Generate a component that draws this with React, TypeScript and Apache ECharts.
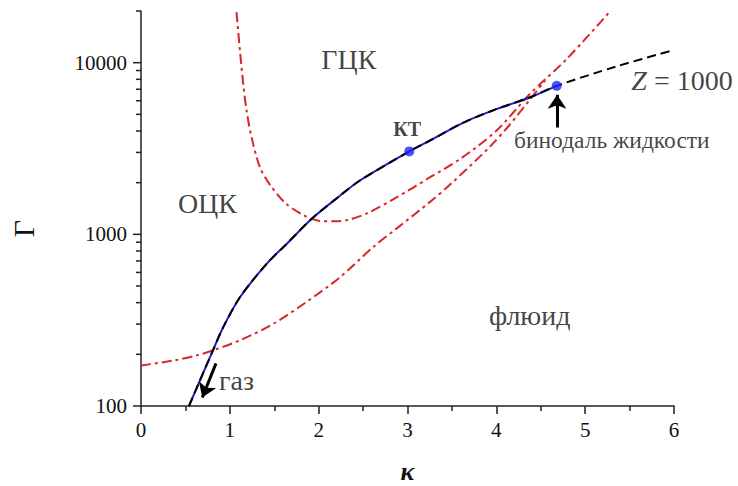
import React, { useEffect, useRef } from 'react';
import * as echarts from 'echarts';

const FONT = "'Liberation Serif', 'Times New Roman', serif";

// Liquid binodal (blue) = Z = 1000 line (black dashed) below the end point
const binodalKappa = [0.54, 0.81, 0.926, 1.114, 1.414, 1.639, 1.92, 2.24, 2.46, 3.02, 3.25, 3.63, 4.0, 4.375, 4.68];
const binodalGamma = [100, 211, 288, 430, 673, 879, 1230, 1679, 2052, 3040, 3510, 4480, 5360, 6270, 7330];
// Z = 1000 continuation beyond the binodal end
const zExtKappa = [5.35, 6.0];
const zExtGamma = [9500, 11860];

// Red dash-dot: U-shaped curve (ОЦК / ГЦК boundary and continuation)
const uKappa = [1.075, 1.114, 1.151, 1.189, 1.245, 1.339, 1.45, 1.62, 1.82, 2.0, 2.17, 2.35, 2.55, 2.876, 3.25, 3.59, 4.0, 4.375, 4.79, 5.28];
const uGamma = [19700, 11700, 7480, 5240, 3665, 2455, 1950, 1530, 1300, 1200, 1190, 1220, 1330, 1641, 2144, 2742, 4010, 6550, 10470, 19900];

// Red dash-dot: lower melting curve (merges with the upper one near κ ≈ 4.5)
const lowKappa = [0, 0.365, 0.626, 0.81, 1.11, 1.49, 1.86, 2.24, 2.61, 2.876, 3.25, 3.48, 3.93, 4.15, 4.4, 4.55];
const lowGamma = [172, 184, 197, 211, 241, 301, 403, 562, 840, 1080, 1540, 1950, 3250, 4350, 6300, 7900];

// Blue points: critical point (КТ) and binodal end
const pointKappa = [3.02, 4.68];
const pointGamma = [3040, 7330];

// Y ticks (log axis)
const yMajorTicks = [100, 1000, 10000];
const yMinorTicks = [200, 300, 400, 500, 600, 700, 800, 900, 2000, 3000, 4000, 5000, 6000, 7000, 8000, 9000, 20000];

// Region labels
const regionNames = ['ГЦК', 'ОЦК', 'флюид', 'газ'];
const regionKappa = [2.34, 0.748, 4.376, 1.075];
const regionGamma = [10470, 1514, 338, 140];

// Arrows: [kappa from, gamma from, kappa to, gamma to]
const gasArrow = [0.844, 177, 0.69, 112];
const binodalArrow = [4.684, 4190, 4.684, 6500];

const RED = '#d8262a';
const BLUE = '#1c1ccc';
const INK = '#111';

function pairs(xs: number[], ys: number[]) {
  return xs.map((x, i) => [x, ys[i]]);
}

export default function App() {
  const ref = useRef<HTMLDivElement>(null);
  useEffect(() => {
    document.body.style.margin = '0';
    if (!ref.current) return;
    const chart = echarts.init(ref.current, undefined, { renderer: 'svg' });

    const tickSeries = (values: number[], len: number) => ({
      type: 'custom',
      silent: true,
      clip: false,
      z: 5,
      data: values.map((v) => [0, v]),
      renderItem: (_p: any, api: any) => {
        const pt = api.coord([api.value(0), api.value(1)]);
        return {
          type: 'line',
          shape: { x1: pt[0] - len, y1: pt[1], x2: pt[0], y2: pt[1] },
          style: { stroke: '#222', lineWidth: 1.5 },
        };
      },
    });

    const zLine = pairs(binodalKappa, binodalGamma).concat(pairs(zExtKappa, zExtGamma));

    const option: any = {
      animation: false,
      backgroundColor: '#fff',
      textStyle: { fontFamily: FONT },
      grid: { left: 141, right: 64, top: 11, bottom: 80, containLabel: false, outerBoundsMode: 'none' },
      xAxis: {
        type: 'value',
        min: 0,
        max: 6,
        interval: 1,
        name: 'κ',
        nameLocation: 'middle',
        nameGap: 52,
        nameTextStyle: { fontSize: 26, lineHeight: 26, fontWeight: 'bold', fontStyle: 'italic', color: INK, fontFamily: FONT },
        axisLine: { lineStyle: { color: '#222', width: 1.5 } },
        axisTick: { show: true, length: 8, lineStyle: { color: '#222', width: 1.5 } },
        minorTick: { show: true, splitNumber: 2, length: 5, lineStyle: { color: '#222', width: 1.5 } },
        splitLine: { show: false },
        axisLabel: { fontSize: 21, color: INK, margin: 13, fontFamily: FONT },
      },
      yAxis: {
        type: 'log',
        logBase: 10,
        min: 100,
        max: 20000,
        name: 'Γ',
        nameLocation: 'middle',
        nameGap: 103,
        nameRotate: 90,
        nameTextStyle: { fontSize: 30, color: INK, fontFamily: FONT, padding: [0, 40, 0, 0] },
        axisLine: { show: true, lineStyle: { color: '#222', width: 1.5 } },
        axisTick: { show: false },
        splitLine: { show: false },
        axisLabel: {
          fontSize: 21,
          color: INK,
          margin: 14,
          fontFamily: FONT,
          formatter: (v: number) =>
            yMajorTicks.some((t) => Math.abs(t - v) / t < 1e-6) ? String(Math.round(v)) : '',
        },
      },
      series: [
        {
          type: 'line',
          data: pairs(lowKappa, lowGamma),
          smooth: 0.3,
          showSymbol: false,
          clip: true,
          lineStyle: { color: RED, width: 2, type: [10, 4, 3, 4] },
          z: 2,
        },
        {
          type: 'line',
          data: pairs(uKappa, uGamma),
          smooth: 0.3,
          showSymbol: false,
          clip: true,
          lineStyle: { color: RED, width: 2, type: [10, 4, 3, 4] },
          z: 2,
        },
        {
          type: 'line',
          data: pairs(binodalKappa, binodalGamma),
          smooth: 0.3,
          showSymbol: false,
          lineStyle: { color: BLUE, width: 2 },
          z: 3,
        },
        {
          type: 'line',
          data: zLine,
          smooth: 0.3,
          showSymbol: false,
          lineStyle: { color: '#000', width: 2, type: [9, 5] },
          z: 4,
        },
        {
          type: 'scatter',
          data: pairs(pointKappa, pointGamma),
          symbolSize: 10,
          itemStyle: { color: '#1a2af0' },
          z: 6,
        },
        {
          type: 'lines',
          coordinateSystem: 'cartesian2d',
          symbol: ['none', 'arrow'],
          symbolSize: [11, 14],
          silent: true,
          z: 6,
          lineStyle: { color: '#000', width: 3, opacity: 1 },
          itemStyle: { color: '#000' },
          data: [
            { coords: [[gasArrow[0], gasArrow[1]], [gasArrow[2], gasArrow[3]]] },
            { coords: [[binodalArrow[0], binodalArrow[1]], [binodalArrow[2], binodalArrow[3]]] },
          ],
        },
        tickSeries(yMajorTicks, 8),
        tickSeries(yMinorTicks, 5),
        {
          type: 'scatter',
          symbolSize: 0,
          silent: true,
          clip: false,
          z: 7,
          label: {
            show: true,
            position: 'inside',
            formatter: '{b}',
            fontFamily: FONT,
            fontSize: 28,
            color: INK,
          },
          data: regionNames.map((n, i) => ({ name: n, value: [regionKappa[i], regionGamma[i]] })),
        },
        {
          type: 'scatter',
          symbolSize: 0,
          silent: true,
          clip: false,
          z: 7,
          data: [
            {
              name: 'КТ',
              value: [2.997, 4100],
              label: { show: true, position: 'inside', formatter: '{b}', fontFamily: FONT, fontSize: 20, fontWeight: 'bold', color: INK },
            },
            {
              name: 'бинодаль жидкости',
              value: [5.3, 3530],
              label: { show: true, position: 'inside', formatter: '{b}', fontFamily: FONT, fontSize: 23.5, color: INK },
            },
            {
              name: 'Z = 1000',
              value: [6.09, 7860],
              label: {
                show: true,
                position: 'inside',
                formatter: '{i|Z} = 1000',
                fontFamily: FONT,
                fontSize: 28,
                color: INK,
                rich: { i: { fontStyle: 'italic', fontFamily: FONT, fontSize: 28, color: INK } },
              },
            },
          ],
        },
      ],
    };
    chart.setOption(option);
    return () => chart.dispose();
  }, []);
  return <div ref={ref} style={{ width: 738, height: 486 }} />;
}
